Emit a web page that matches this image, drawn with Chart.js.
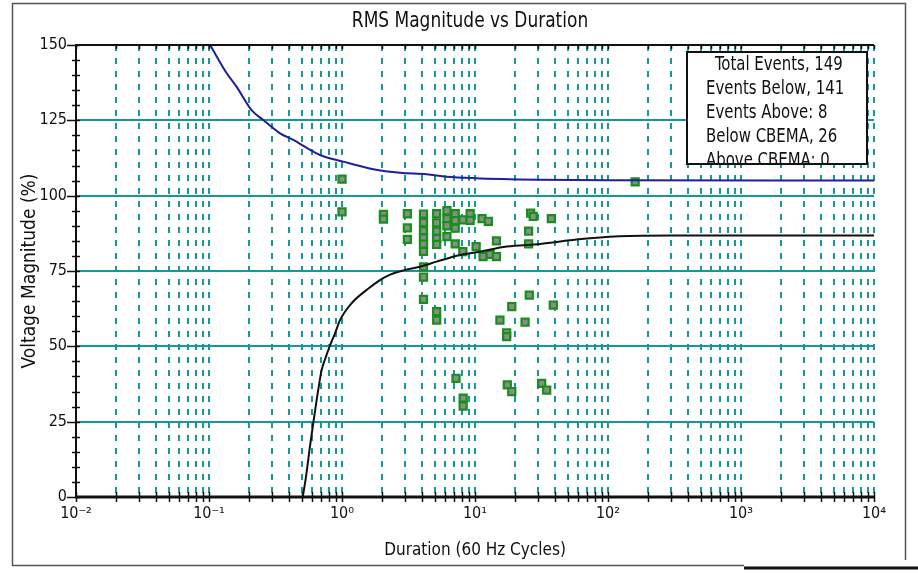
<!DOCTYPE html>
<html>
<head>
<meta charset="utf-8">
<script src="https://cdn.jsdelivr.net/npm/chart.js@4.4.1/dist/chart.umd.min.js"></script>
<style>
  html, body { margin: 0; padding: 0; background: #fff; overflow: hidden; }
  canvas { display: block; }
</style>
</head>
<body>
<canvas id="chart" width="918" height="573"></canvas>
<script>
// Recorded RMS events: duration (60 Hz cycles) and magnitude (% of nominal)
const eventDurations = [
  1.0, 1.0, 2.05, 2.05, 3.1, 3.1, 3.1,
  4.1, 4.1, 4.1, 4.1, 4.1, 4.1, 4.1, 4.1, 4.1,
  5.15, 5.15, 5.15, 5.15, 5.15, 5.15, 5.15,
  6.15, 6.15, 6.15, 6.15, 7.1, 7.1, 7.1, 7.1,
  8.1, 8.1, 9.2, 9.2, 10.2, 11.3, 12.6, 11.5, 13.0, 14.5, 14.5,
  26.2, 27.4, 25.3, 25.3, 37.5,
  25.6, 18.9, 15.4, 23.8, 38.8, 17.3, 17.3,
  7.2, 8.15, 8.15, 17.5, 18.9, 31.7, 34.6,
  160
];
const eventMagnitudes = [
  105.5, 94.6, 93.8, 92.2, 94.0, 89.3, 85.5,
  93.9, 91.1, 88.3, 86.0, 83.9, 81.5, 76.4, 73.0, 65.6,
  94.0, 91.0, 88.2, 85.8, 83.8, 61.5, 58.7,
  95.0, 92.4, 90.0, 86.4, 94.0, 91.7, 89.2, 84.0,
  92.0, 81.4, 94.0, 91.8, 83.1, 92.4, 91.5, 79.8, 80.5, 85.0, 79.8,
  94.2, 93.1, 88.2, 84.0, 92.4,
  67.0, 63.2, 58.7, 58.0, 63.7, 54.5, 53.2,
  39.4, 32.8, 30.2, 37.2, 35.0, 37.7, 35.5,
  104.6
];

// Upper (overvoltage) tolerance curve
const upperDurations  = [0.102, 0.136, 0.161, 0.209, 0.256, 0.342, 0.43, 0.684, 1.02, 1.72, 2.73, 4.33, 6.1, 10, 30, 100, 10000];
const upperMagnitudes = [150, 140.6, 136.2, 128.4, 125.1, 120.7, 118.5, 113.5, 111.3, 108.8, 107.6, 107.1, 106.3, 105.8, 105.3, 105.1, 105];

// Lower (undervoltage) tolerance curve
const lowerDurations  = [0.507, 0.536, 0.574, 0.608, 0.645, 0.703, 0.758, 0.803, 0.886, 0.966, 1.18, 1.53, 1.93, 2.3, 2.9, 3.85, 5.15, 7.7, 10.9, 17.3, 30.8, 60, 120, 300, 10000];
const lowerMagnitudes = [0, 6.7, 16.7, 24.5, 32.2, 42.1, 46.6, 49.7, 54.3, 58.7, 64.3, 68.7, 72.0, 73.8, 75.2, 76.4, 78.1, 80.3, 81.4, 83.1, 84.0, 85.5, 86.5, 86.8, 86.8];

// Axis ticks
const xDecades = [0.01, 0.1, 1, 10, 100, 1000, 10000];
const xDecadeLabels = ['10\u207B\u00B2', '10\u207B\u00B9', '10\u2070', '10\u00B9', '10\u00B2', '10\u00B3', '10\u2074'];
const yTicks = [0, 25, 50, 75, 100, 125, 150];

// Event summary
const summaryLines = ['Total Events, 149', 'Events Below, 141', 'Events Above: 8', 'Below CBEMA, 26', 'Above CBEMA: 0'];

const FONT = "'DejaVu Sans Condensed', 'Liberation Sans Narrow', 'Liberation Sans', sans-serif";
const TEAL = '#14999a';

// every 1..9 x 10^k position on the log axis
const xTickValues = [];
xDecades.forEach((d, i) => {
  if (i === xDecades.length - 1) { xTickValues.push(d); return; }
  for (let k = 1; k <= 9; k++) xTickValues.push(k === 1 ? d : +(d * k).toPrecision(6));
});

const toPoints = (xs, ys) => xs.map((v, i) => ({ x: v, y: ys[i] }));

// text squeezed horizontally to mimic the narrow chart font
function fillNarrow(ctx, text, x, y, squeeze, align) {
  ctx.save();
  ctx.translate(x, y);
  ctx.scale(squeeze, 1);
  ctx.textAlign = align;
  ctx.fillText(text, 0, 0);
  ctx.restore();
}

const decorations = {
  id: 'decorations',
  afterDraw(chart) {
    const { ctx, chartArea: { left, right, top, bottom }, scales: { x, y } } = chart;
    ctx.save();

    // axis frame lines
    ctx.strokeStyle = '#111';
    ctx.lineWidth = 2;
    ctx.beginPath();
    ctx.moveTo(left, bottom); ctx.lineTo(left, top); ctx.lineTo(right, top);
    ctx.stroke();
    ctx.lineWidth = 3;
    ctx.beginPath();
    ctx.moveTo(left - 1, bottom); ctx.lineTo(right + 1, bottom);
    ctx.stroke();

    // y axis minor and major ticks
    ctx.lineWidth = 1.5;
    ctx.beginPath();
    for (let v = 0; v <= 150; v += 5) {
      const py = Math.round(y.getPixelForValue(v)) + 0.5;
      const major = yTicks.includes(v);
      ctx.moveTo(left - (major ? 9 : 4), py);
      ctx.lineTo(left + 4, py);
    }
    ctx.stroke();

    // x axis ticks on top and bottom lines
    ctx.beginPath();
    xTickValues.forEach(v => {
      const px = Math.round(x.getPixelForValue(v)) + 0.5;
      ctx.moveTo(px, bottom - 5); ctx.lineTo(px, bottom + 5);
      ctx.moveTo(px, top); ctx.lineTo(px, top + 4);
    });
    ctx.stroke();

    // chart title
    ctx.fillStyle = '#111';
    ctx.font = '21px ' + FONT;
    ctx.textBaseline = 'alphabetic';
    fillNarrow(ctx, 'RMS Magnitude vs Duration', 470, 27, 0.9, 'center');

    // event summary box
    const bx = 687, by = 52, bw = 180, bh = 112;
    ctx.fillStyle = '#fff';
    ctx.fillRect(bx, by, bw, bh);
    ctx.save();
    ctx.beginPath();
    ctx.rect(bx, by, bw, bh);
    ctx.clip();
    ctx.fillStyle = '#111';
    ctx.font = '20px ' + FONT;
    summaryLines.forEach((t, i) => {
      fillNarrow(ctx, t, i === 0 ? 715 : 706, 70 + i * 24, 0.83, 'left');
    });
    ctx.restore();
    ctx.strokeStyle = '#111';
    ctx.lineWidth = 2;
    ctx.strokeRect(bx, by, bw, bh);

    // outer frame
    ctx.strokeStyle = '#555';
    ctx.lineWidth = 1.5;
    ctx.beginPath();
    ctx.moveTo(744, 565.5); ctx.lineTo(12.5, 565.5); ctx.lineTo(12.5, 3.5); ctx.lineTo(905.5, 3.5); ctx.lineTo(905.5, 560);
    ctx.stroke();
    ctx.strokeStyle = '#111';
    ctx.lineWidth = 3;
    ctx.beginPath();
    ctx.moveTo(744, 568); ctx.lineTo(918, 568);
    ctx.stroke();

    ctx.restore();
  }
};

new Chart(document.getElementById('chart'), {
  type: 'scatter',
  data: {
    datasets: [
      {
        label: 'Upper limit',
        data: toPoints(upperDurations, upperMagnitudes),
        showLine: true,
        borderColor: '#1e1e9e',
        borderWidth: 2,
        pointRadius: 0,
        cubicInterpolationMode: 'monotone'
      },
      {
        label: 'Lower limit',
        data: toPoints(lowerDurations, lowerMagnitudes),
        showLine: true,
        borderColor: '#111',
        borderWidth: 2,
        pointRadius: 0,
        cubicInterpolationMode: 'monotone'
      },
      {
        label: 'Events',
        data: toPoints(eventDurations, eventMagnitudes),
        showLine: false,
        pointStyle: 'rect',
        pointRadius: 5,
        backgroundColor: '#8c8c8c',
        borderColor: '#17901a',
        borderWidth: 2.2
      }
    ]
  },
  options: {
    responsive: false,
    devicePixelRatio: 1,
    animation: false,
    layout: { padding: { top: 45, right: 44, left: 0, bottom: 0 } },
    plugins: { legend: { display: false }, title: { display: false }, tooltip: { enabled: false } },
    scales: {
      x: {
        type: 'logarithmic',
        min: 0.01,
        max: 10000,
        afterBuildTicks: s => { s.ticks = xTickValues.map(v => ({ value: v })); },
        afterFit: s => { s.height = 76; },
        ticks: {
          autoSkip: false,
          maxRotation: 0,
          padding: 7,
          color: '#111',
          font: { family: FONT, size: 16 },
          callback: v => {
            const i = xDecades.findIndex(d => Math.abs(d - v) / d < 1e-6);
            return i >= 0 ? xDecadeLabels[i] : '';
          }
        },
        grid: {
          color: ctx => (ctx.tick && ctx.tick.value === 0.01) ? 'rgba(0,0,0,0)' : TEAL,
          lineWidth: 2,
          drawTicks: false
        },
        border: { display: false, dash: [6, 7] },
        title: {
          display: true,
          text: 'Duration (60 Hz Cycles)',
          color: '#111',
          font: { family: FONT, size: 17 },
          padding: { top: 0, bottom: 12 }
        }
      },
      y: {
        min: 0,
        max: 150,
        afterBuildTicks: s => { s.ticks = yTicks.map(v => ({ value: v })); },
        afterFit: s => { s.width = 76; },
        ticks: {
          padding: 9,
          color: '#111',
          font: { family: FONT, size: 16 }
        },
        grid: {
          color: ctx => (ctx.tick && (ctx.tick.value === 0 || ctx.tick.value === 150)) ? 'rgba(0,0,0,0)' : TEAL,
          lineWidth: 2,
          drawTicks: false
        },
        border: { display: false },
        title: {
          display: true,
          text: 'Voltage Magnitude (%)',
          color: '#111',
          font: { family: FONT, size: 19 },
          padding: { top: 19, bottom: 0 }
        }
      }
    }
  },
  plugins: [decorations]
});
</script>
</body>
</html>
